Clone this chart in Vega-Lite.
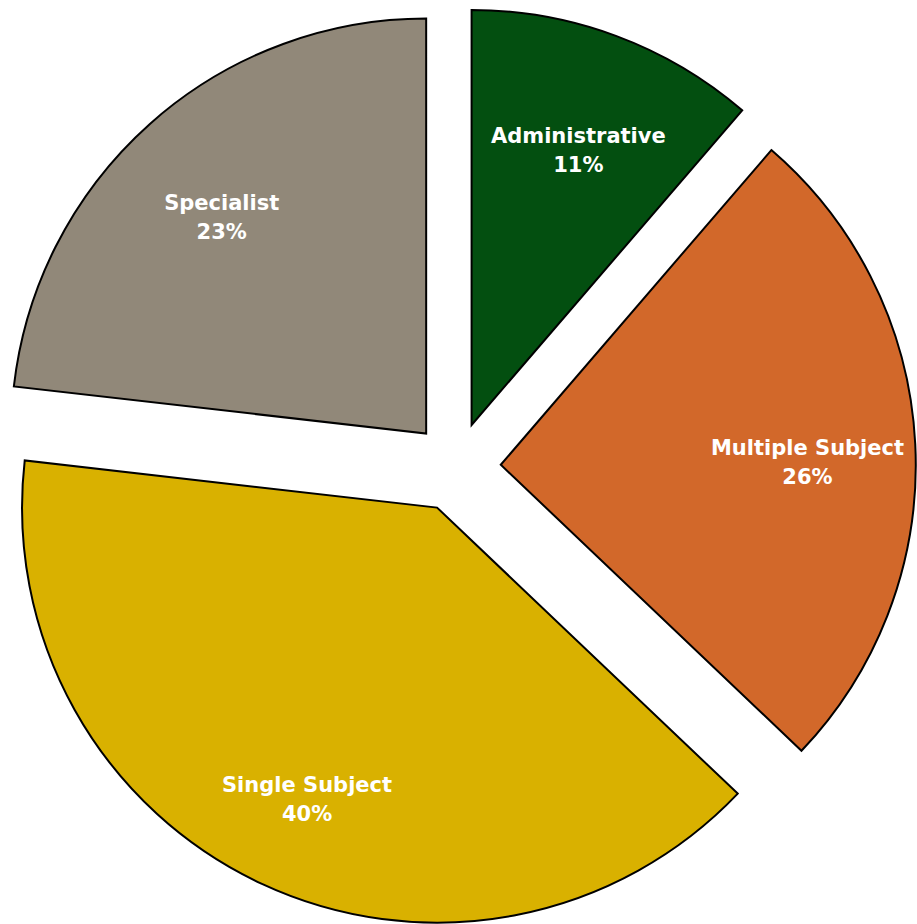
{
  "$schema": "https://vega.github.io/schema/vega-lite/v6.json",
  "width": 917,
  "height": 924,
  "autosize": {"type": "none"},
  "padding": 0,
  "background": "white",
  "view": {"stroke": null},
  "data": {
    "values": [
      {"category": "Administrative", "count": 39},
      {"category": "Multiple Subject", "count": 89},
      {"category": "Single Subject", "count": 137},
      {"category": "Specialist", "count": 80}
    ]
  },
  "transform": [
    {"joinaggregate": [{"op": "sum", "field": "count", "as": "total"}]},
    {"window": [{"op": "sum", "field": "count", "as": "cum"}], "frame": [null, 0]},
    {"calculate": "(datum.cum - datum.count) / datum.total * 2 * PI", "as": "a0"},
    {"calculate": "datum.cum / datum.total * 2 * PI", "as": "a1"},
    {"calculate": "(datum.a0 + datum.a1) / 2", "as": "mid"},
    {"calculate": "0.108 * sin(datum.mid)", "as": "dx"},
    {"calculate": "0.108 * cos(datum.mid)", "as": "dy"},
    {"calculate": "datum.dx + 0.74 * sin(datum.mid)", "as": "lx"},
    {"calculate": "datum.dy + 0.74 * cos(datum.mid)", "as": "ly"},
    {"calculate": "[datum.category, format(datum.count / datum.total, '.0%')]", "as": "label"}
  ],
  "layer": [
    {
      "mark": {"type": "arc", "outerRadius": 415, "stroke": "black", "strokeWidth": 2},
      "encoding": {
        "theta": {"field": "a0", "type": "quantitative", "scale": null, "stack": null},
        "theta2": {"field": "a1"},
        "x": {"field": "dx", "type": "quantitative", "scale": {"domain": [-1.0988, 1.1108]}, "axis": null},
        "y": {"field": "dy", "type": "quantitative", "scale": {"domain": [-1.1012, 1.1253]}, "axis": null},
        "color": {
          "field": "category",
          "type": "nominal",
          "scale": {
            "domain": ["Administrative", "Multiple Subject", "Single Subject", "Specialist"],
            "range": ["#034f10", "#d2682a", "#d9b100", "#918879"]
          },
          "legend": null
        }
      }
    },
    {
      "mark": {
        "type": "text",
        "font": "DejaVu Sans",
        "fontWeight": "bold",
        "fontSize": 21,
        "lineHeight": 29,
        "color": "white",
        "align": "center",
        "baseline": "middle"
      },
      "encoding": {
        "x": {"field": "lx", "type": "quantitative", "scale": {"domain": [-1.0988, 1.1108]}, "axis": null},
        "y": {"field": "ly", "type": "quantitative", "scale": {"domain": [-1.1012, 1.1253]}, "axis": null},
        "text": {"field": "label"}
      }
    }
  ]
}
